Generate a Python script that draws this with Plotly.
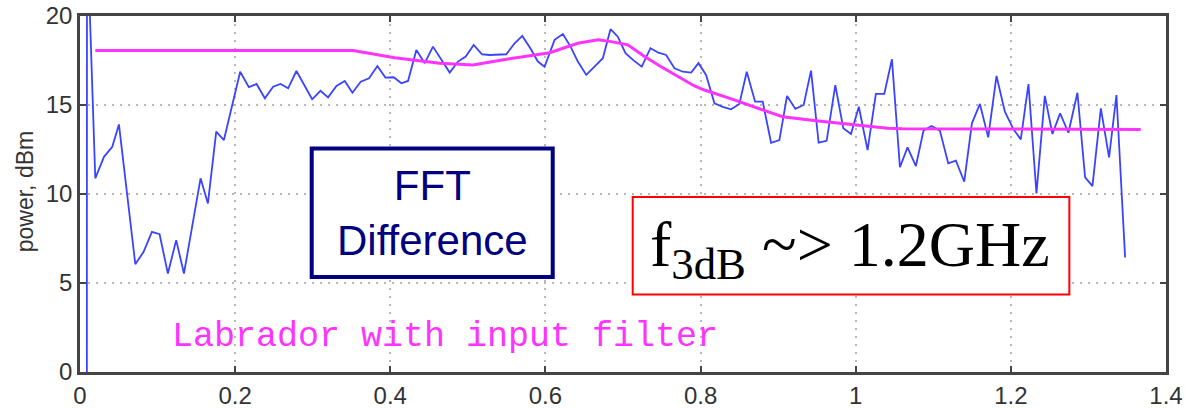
import plotly.graph_objects as go

# Measured FFT difference spectrum (frequency in GHz, power in dBm)
freq_ghz = [
    0.0086, 0.0090, 0.0197, 0.0309, 0.0416, 0.0502, 0.0713, 0.0820, 0.0927, 0.1026,
    0.1133, 0.1240, 0.1340, 0.1554, 0.1649, 0.1756, 0.1855, 0.2065, 0.2177, 0.2276,
    0.2383, 0.2490, 0.2585, 0.2683, 0.2790, 0.2993, 0.3100, 0.3198, 0.3306, 0.3413,
    0.3512, 0.3619, 0.3726, 0.3834, 0.3937, 0.4044, 0.4143, 0.4229, 0.4336, 0.4444,
    0.4550, 0.4766, 0.4873, 0.4972, 0.5075, 0.5182, 0.5281, 0.5388, 0.5496, 0.5603,
    0.5702, 0.5805, 0.5903, 0.5989, 0.6118, 0.6225, 0.6324, 0.6418, 0.6526, 0.6633,
    0.6740, 0.6839, 0.6933, 0.7032, 0.7140, 0.7242, 0.7354, 0.7457, 0.7556, 0.7664,
    0.7771, 0.7879, 0.7973, 0.8071, 0.8179, 0.8286, 0.8394, 0.8500, 0.8595, 0.8703,
    0.8801, 0.8909, 0.9016, 0.9115, 0.9222, 0.9329, 0.9424, 0.9522, 0.9625, 0.9737,
    0.9840, 0.9939, 1.0040, 1.0153, 1.0260, 1.0368, 1.0467, 1.0570, 1.0668, 1.0776,
    1.0874, 1.0977, 1.1085, 1.1193, 1.1292, 1.1399, 1.1498, 1.1601, 1.1708, 1.1815,
    1.1923, 1.2034, 1.2128, 1.2227, 1.2330, 1.2438, 1.2536, 1.2635, 1.2742, 1.2858,
    1.2957, 1.3052, 1.3160, 1.3266, 1.3361, 1.3473,
]
power_dbm = [
    -40.0, 25.0, 10.88, 12.09, 12.65, 13.91, 6.06, 6.75, 7.87, 7.74,
    5.53, 7.41, 5.53, 10.88, 9.47, 13.50, 13.03, 16.87, 16.00, 16.18,
    15.38, 16.03, 16.18, 15.94, 16.91, 15.32, 15.80, 15.43, 16.07, 16.35,
    15.69, 16.31, 16.50, 17.19, 16.54, 16.56, 16.22, 16.35, 18.09, 17.35,
    18.28, 16.82, 17.44, 17.72, 18.37, 17.85, 17.81, 17.81, 17.85, 18.47,
    18.88, 18.19, 17.44, 17.15, 18.66, 18.99, 18.28, 17.44, 16.69, 17.15,
    17.63, 19.26, 18.84, 17.91, 17.49, 17.15, 18.19, 17.94, 17.81, 17.06,
    16.87, 16.82, 17.35, 16.69, 15.10, 14.90, 14.76, 15.06, 16.87, 15.19,
    15.19, 12.88, 13.03, 15.51, 14.78, 15.00, 16.93, 12.88, 12.99, 16.12,
    13.69, 13.37, 14.90, 12.47, 15.62, 15.62, 17.57, 11.50, 12.62, 11.57,
    13.56, 13.82, 13.56, 11.72, 11.87, 10.69, 13.97, 15.06, 13.18, 16.63,
    14.62, 13.63, 13.07, 16.18, 10.03, 15.51, 13.37, 14.53, 13.44, 15.69,
    10.93, 10.44, 14.81, 12.06, 15.56, 6.43,
]

# Labrador response with input filter
model_freq_ghz = [
    0.0197, 0.352, 0.4057, 0.4336, 0.4637, 0.5066, 0.5496, 0.6054, 0.6418, 0.6676,
    0.6848, 0.7062, 0.7277, 0.7492, 0.7706, 0.7921, 0.8050, 0.8415, 0.8845, 0.9058,
    0.9489, 1.0046, 1.0410, 1.0600, 1.3674,
]
model_power_dbm = [
    18.06, 18.06, 17.66, 17.53, 17.35, 17.25, 17.57, 17.94, 18.47, 18.66,
    18.56, 18.38, 17.72, 17.15, 16.59, 16.07, 15.84, 15.32, 14.66, 14.34,
    14.12, 13.88, 13.69, 13.66, 13.63,
]

x_ticks = [0, 0.2, 0.4, 0.6, 0.8, 1, 1.2, 1.4]
x_tick_labels = ["0", "0.2", "0.4", "0.6", "0.8", "1", "1.2", "1.4"]
y_ticks = [0, 5, 10, 15, 20]
y_tick_labels = ["0", "5", "10", "15", "20"]

MAGENTA = "#ff33ff"
BLUE = "#3a44ff"
NAVY = "#000080"
AXIS = "#444444"

fig = go.Figure()
fig.add_trace(go.Scatter(
    x=freq_ghz, y=power_dbm, mode="lines",
    line=dict(color=BLUE, width=1.8), hoverinfo="skip",
))
fig.add_trace(go.Scatter(
    x=model_freq_ghz, y=model_power_dbm, mode="lines",
    line=dict(color=MAGENTA, width=3), hoverinfo="skip",
))

axis_common = dict(
    showline=True, linecolor=AXIS, linewidth=2.5, mirror="ticks",
    ticks="inside", ticklen=6, tickwidth=1.5, tickcolor=AXIS,
    showgrid=True, gridcolor="#b8b8b8", gridwidth=1.5, griddash="2px,6px",
    zeroline=False, automargin=False,
    tickfont=dict(family="Liberation Sans, Arial, sans-serif", size=24, color="#333333"),
)

fig.update_xaxes(range=[0, 1.4], tickvals=x_ticks, ticktext=x_tick_labels, **axis_common)
fig.update_yaxes(range=[0, 20], tickvals=y_ticks, ticktext=y_tick_labels, **axis_common)

# Annotation boxes
fig.add_shape(type="rect", xref="x", yref="y", x0=0.2987, x1=0.6094, y0=5.34, y1=12.55,
              line=dict(color=NAVY, width=4), fillcolor="white", layer="above")
fig.add_shape(type="rect", xref="x", yref="y", x0=0.7125, x1=1.2754, y0=4.35, y1=9.83,
              line=dict(color="#ff0000", width=2), fillcolor="white", layer="above")

fig.add_annotation(x=0.454, y=8.95, xref="x", yref="y", showarrow=False,
                   text="FFT<br>Difference", align="center",
                   font=dict(family="Liberation Sans, Arial, sans-serif", size=42, color=NAVY))
fig.add_annotation(x=0.993, y=6.9, xref="x", yref="y", showarrow=False,
                   text="f<sub>3dB</sub> ~> 1.2GHz",
                   font=dict(family="Liberation Serif, Times New Roman, serif", size=64, color="black"))
fig.add_annotation(x=0.116, y=1.95, xref="x", yref="y", showarrow=False,
                   xanchor="left", yanchor="middle",
                   text="Labrador with input filter",
                   font=dict(family="Liberation Mono, Courier New, monospace", size=35, color=MAGENTA))
fig.add_annotation(x=-0.0506, y=0.505, xref="paper", yref="paper", showarrow=False,
                   xanchor="center", yanchor="middle",
                   text="power, dBm", textangle=-90,
                   font=dict(family="Liberation Sans, Arial, sans-serif", size=23, color="#333333"))

fig.update_layout(
    width=1186, height=409,
    margin=dict(l=80, r=20, t=16, b=37),
    paper_bgcolor="white", plot_bgcolor="white",
    showlegend=False,
)

fig.write_html("out.html")
